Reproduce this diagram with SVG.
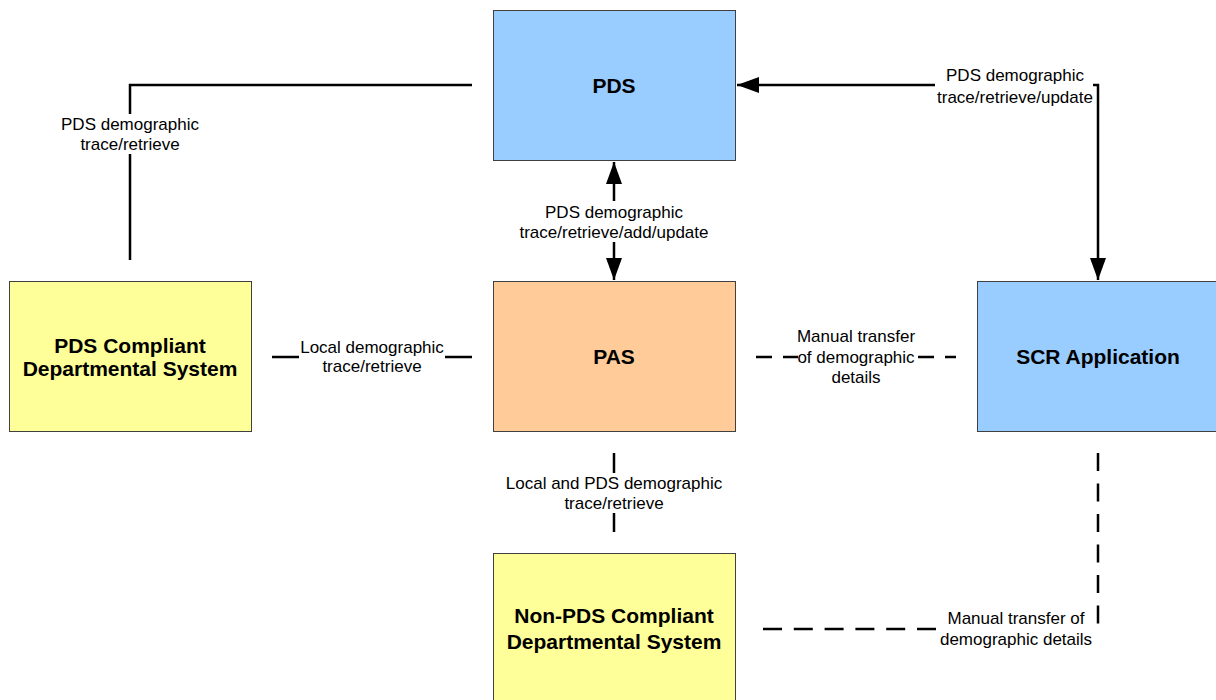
<svg xmlns="http://www.w3.org/2000/svg" width="1216" height="700" viewBox="0 0 1216 700">
<defs>
<style>
.box{stroke:#404040;stroke-width:1}
.blue{fill:#99CCFF}
.orange{fill:#FFCC99}
.yellow{fill:#FFFF99}
.nt{font-family:"Liberation Sans",Arial,sans-serif;font-size:21px;font-weight:bold;fill:#000;text-anchor:middle}
.lt{font-family:"Liberation Sans",Arial,sans-serif;font-size:17px;fill:#000;text-anchor:middle}
.ln{fill:none;stroke:#000;stroke-width:2.5}
.dash1{stroke-dasharray:16 11}
.dash2{stroke-dasharray:19 11.8}
.dash3{stroke-dasharray:18 12.5}
.bg{fill:#fff}
</style>
<marker id="arr" markerUnits="userSpaceOnUse" markerWidth="22" markerHeight="16" refX="22" refY="8" orient="auto-start-reverse" viewBox="0 0 22 16">
<path d="M0,0 L22,8 L0,16 z" fill="#000"/>
</marker>
</defs>
<rect width="1216" height="700" fill="#fff"/>

<g id="connectors">
<path class="ln" d="M130,260 L130,85 L472,85"/>
<path class="ln" d="M614,162 L614,280" marker-start="url(#arr)" marker-end="url(#arr)"/>
<path class="ln" d="M737,85 L1098,85 L1098,280" marker-start="url(#arr)" marker-end="url(#arr)"/>
<path class="ln" d="M272,357 L472,357"/>
<path class="ln dash1" d="M756,357 L956,357"/>
<path class="ln" d="M614,453 L614,532"/>
<path class="ln dash3" d="M1098,453 L1098,627"/>
<path class="ln dash2" d="M763,629 L936,629"/>

<rect class="bg" x="58" y="114" width="144" height="40"/>
<text class="lt" x="130" y="130">PDS demographic</text>
<text class="lt" x="130" y="150">trace/retrieve</text>

<rect class="bg" x="517" y="201" width="194" height="41"/>
<text class="lt" x="614" y="218">PDS demographic</text>
<text class="lt" x="614" y="238">trace/retrieve/add/update</text>

<rect class="bg" x="935" y="64" width="158" height="43"/>
<text class="lt" x="1015" y="81">PDS demographic</text>
<text class="lt" x="1015" y="103">trace/retrieve/update</text>

<rect class="bg" x="299" y="338" width="146" height="38"/>
<text class="lt" x="372" y="353">Local demographic</text>
<text class="lt" x="372" y="372">trace/retrieve</text>

<rect class="bg" x="798" y="347" width="116" height="20"/>
<text class="lt" x="856" y="342">Manual transfer</text>
<text class="lt" x="856" y="363">of demographic</text>
<text class="lt" x="856" y="383">details</text>

<rect class="bg" x="505" y="473" width="218" height="40"/>
<text class="lt" x="614" y="489">Local and PDS demographic</text>
<text class="lt" x="614" y="509">trace/retrieve</text>

<text class="lt" x="1016" y="624">Manual transfer of</text>
<text class="lt" x="1016" y="645">demographic details</text>
</g>

<g id="pds">
<rect class="box blue" x="493.5" y="10.5" width="242" height="150"/>
<text class="nt" x="614" y="92.5">PDS</text>
</g>
<g id="pas">
<rect class="box orange" x="493.5" y="281.5" width="242" height="150"/>
<text class="nt" x="614" y="363.5">PAS</text>
</g>
<g id="pds-compliant">
<rect class="box yellow" x="9.5" y="281.5" width="242" height="150"/>
<text class="nt" x="130" y="352.5">PDS Compliant</text>
<text class="nt" x="130" y="375.5">Departmental System</text>
</g>
<g id="scr">
<rect class="box blue" x="977.5" y="281.5" width="242" height="150"/>
<text class="nt" x="1098" y="363.5">SCR Application</text>
</g>
<g id="non-pds">
<rect class="box yellow" x="493.5" y="553.5" width="242" height="150"/>
<text class="nt" x="614" y="622.5">Non-PDS Compliant</text>
<text class="nt" x="614" y="648.5">Departmental System</text>
</g>
</svg>
